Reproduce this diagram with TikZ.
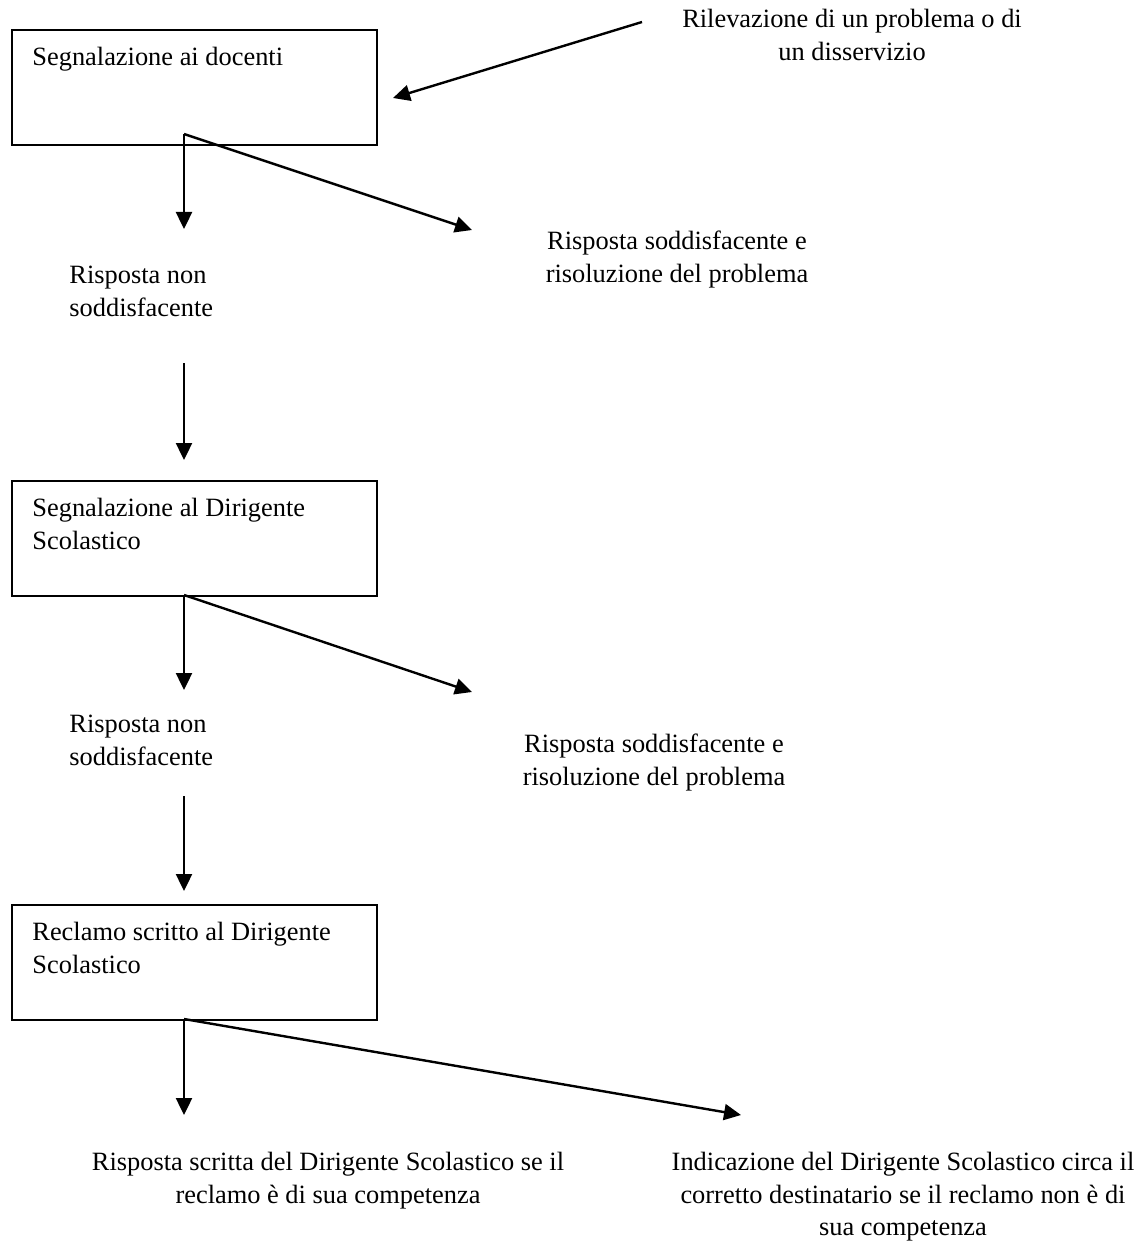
\documentclass[tikz,border=0pt]{standalone}
\usepackage{fontspec}
\setmainfont{Liberation Serif}
\usetikzlibrary{arrows.meta}

\begin{document}
\begin{tikzpicture}[x=0.5pt, y=-0.5pt, >={Triangle[length=8.5pt, width=8pt]},
        font=\fontsize{13.2pt}{16.2pt}\selectfont,
        box/.style={draw, line width=1pt, inner sep=0pt, anchor=north west,
            minimum width=182.5pt, minimum height=57.5pt},
        ltxt/.style={inner sep=0pt, align=left, anchor=north west},
        ctxt/.style={inner sep=0pt, align=center, anchor=north}]
        \useasboundingbox (0,0) rectangle (1145,1241);

        \node[box] (box1) at (11, 29) {};
        \node[box] (box2) at (11, 480) {};
        \node[box] (box3) at (11, 904) {};

        \node[ltxt] (seg1) at (32, 47) {Segnalazione ai docenti};
        \node[ltxt] (seg2) at (32, 498) {Segnalazione al Dirigente\\Scolastico};
        \node[ltxt] (recl) at (32, 922) {Reclamo scritto al Dirigente\\Scolastico};

        \node[ctxt] (ril) at (852, 9) {Rilevazione di un problema o di\\un disservizio};
        \node[ltxt] (no1) at (69, 266) {Risposta non\\soddisfacente};
        \node[ctxt] (ok1) at (677, 231) {Risposta soddisfacente e\\risoluzione del problema};
        \node[ltxt] (no2) at (69, 715) {Risposta non\\soddisfacente};
        \node[ctxt] (ok2) at (654, 734) {Risposta soddisfacente e\\risoluzione del problema};
        \node[ctxt] (esA) at (328, 1152) {Risposta scritta del Dirigente Scolastico se il\\reclamo è di sua competenza};
        \node[ctxt] (esB) at (903, 1152) {Indicazione del Dirigente Scolastico circa il\\corretto destinatario se il reclamo non è di\\sua competenza};

        \coordinate (r0) at (642, 22);   \coordinate (r1) at (393, 98);
        \coordinate (s1) at (184, 134);  \coordinate (d1) at (184, 229);  \coordinate (e1) at (472, 230);
        \coordinate (u1) at (184, 363);  \coordinate (v1) at (184, 460);
        \coordinate (s2) at (184, 595);  \coordinate (d2) at (184, 690);  \coordinate (e2) at (472, 692);
        \coordinate (u2) at (184, 796);  \coordinate (v2) at (184, 891);
        \coordinate (s3) at (184, 1019); \coordinate (d3) at (184, 1115); \coordinate (e3) at (741, 1115);

        \draw[line width=1.2pt]
              (r0) edge[->] (r1)
              (s1) edge[->] (d1)
              (s1) edge[->] (e1)
              (u1) edge[->] (v1)
              (s2) edge[->] (d2)
              (s2) edge[->] (e2)
              (u2) edge[->] (v2)
              (s3) edge[->] (d3)
              (s3) edge[->] (e3);
    \end{tikzpicture}
\end{document}
